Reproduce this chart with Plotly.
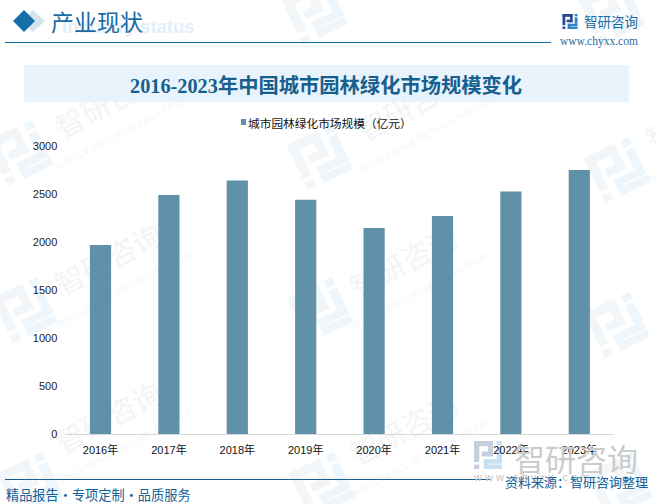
# -*- coding: utf-8 -*-
"""2016-2023 China urban landscaping market size, bar chart on a branded page."""
import math

import plotly.graph_objects as go

W, H = 656, 504
SANS = "Liberation Sans, Noto Sans CJK SC, sans-serif"
CJK = "Noto Sans CJK SC, sans-serif"
SERIF = "Liberation Serif, Noto Sans CJK SC, serif"

years = ["2016年", "2017年", "2018年", "2019年", "2020年", "2021年", "2022年", "2023年"]
market_size = [1970, 2490, 2640, 2440, 2145, 2270, 2525, 2750]
y_ticks = [0, 500, 1000, 1500, 2000, 2500, 3000]

# full-width brackets and colon, as in the reference
series_name = "城市园林绿化市场规模\uff08亿元\uff09"
chart_title = "2016-2023年中国城市园林绿化市场规模变化"
source_text = "资料来源\uff1a智研咨询整理"
footer_text = "精品报告·专项定制·品质服务"

BAR = "#5f91a9"
BLUE = "#11609a"

# watermark positions, pixels
wm_logos = [(20, 153), (315, 12), (612, 12), (320, 157), (617, 170),
            (25, 310), (320, 310), (617, 325), (30, 485), (322, 485), (620, 485)]
wm_texts = [(110, 105), (412, 108), (110, 262), (405, 265), (700, 118), (110, 420), (405, 432)]

# logo pieces in a -1..1 box, (x0, y0, x1, y1) with y going up
LOGO_LEFT = [(-1, .62, .35, 1), (0, -.1, .35, 1), (-.45, -.1, .35, .25),
             (-1, -.5, -.62, 1), (-1, -1, -.62, -.68)]
LOGO_RIGHT = [(.62, .68, 1, 1), (.62, -.3, 1, .55), (-.3, -.62, 1, -.3),
              (-.3, -1, 0, -.3), (-.3, -1, 1, -.68)]


def px(x):
    return x / W


def py(y):
    return 1 - y / H


def poly(points, color, layer="below"):
    path = "M" + " L".join(f"{px(x):.5f},{py(y):.5f}" for x, y in points) + " Z"
    return dict(type="path", xref="paper", yref="paper", path=path, fillcolor=color,
                line_width=0, layer=layer)


def rect(x0, y0, x1, y1, color, layer="below"):
    return poly([(x0, y0), (x1, y0), (x1, y1), (x0, y1)], color, layer)


def logo(cx, cy, half, angle, left, right):
    out = []
    a = math.radians(angle)
    for pieces, color in ((LOGO_LEFT, left), (LOGO_RIGHT, right)):
        for x0, y0, x1, y1 in pieces:
            pts = []
            for x, y in ((x0, y0), (x1, y0), (x1, y1), (x0, y1)):
                rx = x * math.cos(a) - y * math.sin(a)
                ry = x * math.sin(a) + y * math.cos(a)
                pts.append((cx + half * rx, cy - half * ry))
            out.append(poly(pts, color))
    return out


def label_shape(cx, cy, text, size, color, angle=-28, font=CJK):
    # shape label instead of annotation, so the bars sit on top of the watermark
    return dict(type="rect", xref="paper", yref="paper",
                x0=px(cx - 60), x1=px(cx + 60), y0=py(cy + 20), y1=py(cy - 20),
                line_width=0, fillcolor="rgba(0,0,0,0)", layer="below",
                label=dict(text=text, textangle=angle, textposition="middle center",
                           font=dict(size=size, color=color, family=font)))


def note(x, y, text, size, color, font=CJK, xanchor="left"):
    return dict(xref="paper", yref="paper", x=px(x), y=py(y), text=text, showarrow=False,
                xanchor=xanchor, yanchor="middle", font=dict(size=size, color=color, family=font),
                borderpad=0, borderwidth=0)


shapes = []
for cx, cy in wm_logos:
    shapes += logo(cx, cy, 25, 25, "#f2f6f9", "#eef6fb")
for cx, cy in wm_texts:
    shapes.append(label_shape(cx, cy, "智研咨询", 29, "#f3f4f5"))
    shapes.append(label_shape(cx + 14, cy + 26, "INTELLIGENCE RESEARCH GROUP", 9, "#f5f6f7",
                              font=SANS))

# header
shapes.append(poly([(33, 10), (45, 21), (33, 32), (21, 21)], "#d3e4ef"))
shapes.append(poly([(24, 10), (35, 21), (24, 32), (13, 21)], "#156fa9"))
shapes.append(rect(5, 42, 551, 43, "#0f6ba3"))
shapes.append(rect(24, 65, 629, 102, "#e8f3fb"))
shapes += logo(570, 21.5, 7.5, 0, "#2c4a92", "#2a86c8")

# footer
shapes += logo(488, 455, 14, 0, "#c6cfe0", "#c4e0f2")
shapes.append(rect(5, 479, 490, 480, "#1a5f8f"))

# legend swatch
shapes.append(rect(241, 119, 246, 125, BAR))

annotations = [
    note(62, 26, "<b>Industry status</b>", 18.5, "#e2effa", SANS),
    note(51, 21, "产业现状", 23, "#1a6ba3"),
    note(326, 85, f"<b>{chart_title}</b>", 20.3, "#175f8f", SERIF, "center"),
    note(248, 122, series_name, 11.7, "#111111"),
    note(584, 21, "智研咨询", 13.5, "#1a6aa0"),
    note(560, 41, "www.chyxx.com", 11.5, "#2c6d9c", SERIF),
    note(514, 457, "智研咨询", 31, "#cbcbcb"),
    note(473, 477, "w w w . c h y x x . c o m", 11, "#c4c4c4", SANS),
    note(505, 481, source_text, 13, BLUE),
    note(6, 494, footer_text, 13.2, BLUE),
]

fig = go.Figure()
fig.add_trace(go.Bar(x=years, y=market_size, name=series_name, marker_color=BAR,
                     marker_line_width=0, showlegend=False))

fig.update_layout(
    width=W, height=H,
    autosize=False,
    margin=dict(l=0, r=0, t=0, b=0, autoexpand=False),
    paper_bgcolor="white",
    plot_bgcolor="rgba(0,0,0,0)",
    bargap=0.69,
    shapes=shapes,
    annotations=annotations,
    font=dict(family=SANS, size=12, color="#111111"),
    xaxis=dict(domain=[px(66.3), px(613.5)], showgrid=False, showline=True, linecolor="#d9d9d9",
               linewidth=1, ticks="", tickfont=dict(size=11, color="#111111"), ticklabelstandoff=6,
               fixedrange=True),
    yaxis=dict(domain=[py(434), py(146)], range=[0, 3000], tickvals=y_ticks, showgrid=False,
               zeroline=False, showline=False, ticks="", tickfont=dict(size=11, color="#222222"),
               ticklabelstandoff=8, fixedrange=True),
)

# the page's default body margin would push the figure 8px down and right
fig.write_html("out.html", config=dict(displayModeBar=False),
               post_script="document.body.style.margin='0';document.body.style.overflow='hidden';")
